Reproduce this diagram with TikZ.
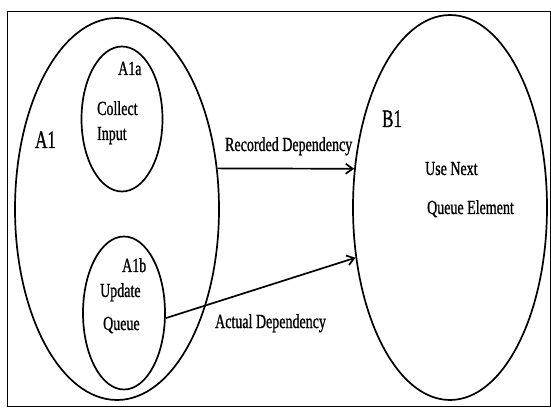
\documentclass[tikz,border=0pt]{standalone}
\usepackage{fontspec}
\setmainfont{Liberation Serif}
\newfontfamily\scanfont{Liberation Serif}[FakeBold=1.2]
\usetikzlibrary{shapes.geometric,arrows.meta}
\begin{document}
\begin{tikzpicture}[x=1pt,y=1pt,
  oval/.style={ellipse,draw,line width=1.7pt,inner sep=0pt},
  txt/.style={anchor=base west,inner sep=0pt,font=\scanfont\fontsize{20}{20}\selectfont,xscale=0.7},
  big/.style={anchor=base west,inner sep=0pt,font=\scanfont\fontsize{25}{25}\selectfont,xscale=0.68},
  dep/.style={line width=1.7pt,-{Straight Barb[length=7pt,width=10pt,line width=1.7pt]}}]
\useasboundingbox (0,0) rectangle (551,-411);
\node[draw,line width=1.3pt,minimum width=543pt,minimum height=395pt,inner sep=0pt,anchor=north west] (frame) at (7,-11) {};
\node[oval,minimum width=204pt,minimum height=382pt] (A1) at (117,-209) {};
\node[oval,minimum width=81pt,minimum height=145pt] (A1a) at (122,-119) {};
\node[oval,minimum width=82pt,minimum height=153pt] (A1b) at (124,-313) {};
\node[oval,minimum width=194pt,minimum height=385pt] (B1) at (450,-207.5) {};
\node[big] (tA1) at (35,-148) {A1};
\node[txt] (tA1a) at (118,-75) {A1a};
\node[txt] (tCollect) at (97,-115) {Collect};
\node[txt] (tInput) at (97,-140) {Input};
\node[txt] (tA1b) at (122,-272) {A1b};
\node[txt] (tUpdate) at (100,-297) {Update};
\node[txt] (tQueue) at (103,-330) {Queue};
\node[txt] (tRec) at (225,-151) {Recorded Dependency};
\node[txt] (tAct) at (215,-328) {Actual Dependency};
\node[big] (tB1) at (382,-127) {B1};
\node[txt] (tUse) at (425,-175) {Use Next};
\node[txt] (tQE) at (427,-214) {Queue Element};
\draw[dep] (A1.22) -- (B1.158);
\draw[dep] (A1b.-7) -- (B1.208);
\end{tikzpicture}
\end{document}
